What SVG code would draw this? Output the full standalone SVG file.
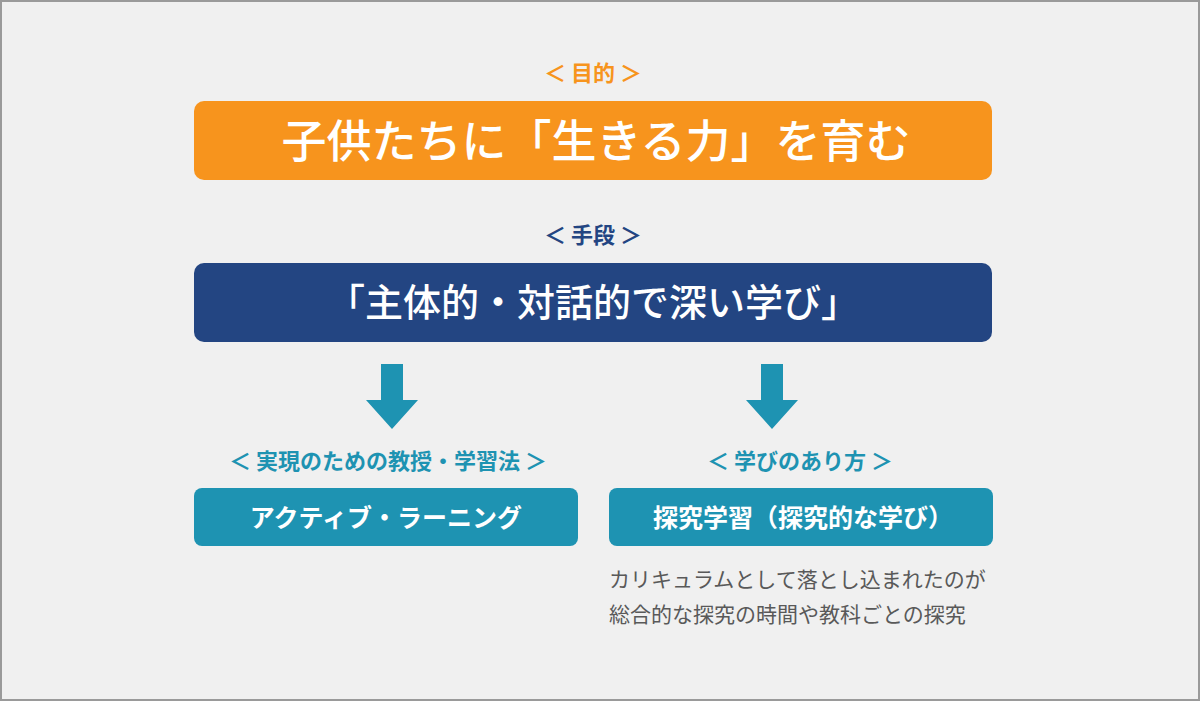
<svg xmlns="http://www.w3.org/2000/svg" width="1200" height="701" viewBox="0 0 1200 701">
<style>
text{font-family:"Noto Sans CJK JP","Noto Sans",sans-serif}
.lbl{font-size:22px;font-weight:bold;text-anchor:middle}
.w{fill:#fff;text-anchor:middle}
.note{font-size:21px;fill:#595959}
.teal{fill:#1e93b2}
</style>
<rect x="1" y="1" width="1198" height="699" fill="#f0f0f0" stroke="#9a9a9a" stroke-width="2"/>
<g id="purpose-label"><text class="lbl" x="593" y="81" fill="#f7941d">＜ 目的 ＞</text></g>
<g id="purpose"><rect x="194" y="101" width="798" height="79" rx="10" fill="#f7941d"/><text class="w" x="596" y="158" font-size="45" font-weight="500">子供たちに「生きる力」を育む</text></g>
<g id="means-label"><text class="lbl" x="593" y="243" fill="#234582">＜ 手段 ＞</text></g>
<g id="means"><rect x="194" y="263" width="798" height="79" rx="10" fill="#234582"/><text class="w" x="593" y="316" font-size="38" font-weight="500">「主体的・対話的で深い学び」</text></g>
<g id="connectors">
<polygon class="teal" points="381,364 403,364 403,400 418,400 392,429 366,400 381,400"/>
<polygon class="teal" points="761,364 783,364 783,400 798,400 772,429 746,400 761,400"/>
</g>
<g id="method-label"><text class="lbl teal" x="388" y="469">＜ 実現のための教授・学習法 ＞</text></g>
<g id="way-label"><text class="lbl teal" x="800" y="469">＜ 学びのあり方 ＞</text></g>
<g id="active"><rect x="194" y="488" width="384" height="58" rx="8" fill="#1e93b2"/><text class="w" x="386" y="527" font-size="25" font-weight="bold">アクティブ・ラーニング</text></g>
<g id="inquiry"><rect x="609" y="488" width="384" height="58" rx="8" fill="#1e93b2"/><text class="w" x="803" y="527" font-size="25" font-weight="bold">探究学習（探究的な学び）</text></g>
<g id="note"><text class="note" x="609" y="587">カリキュラムとして落とし込まれたのが</text><text class="note" x="609" y="622">総合的な探究の時間や教科ごとの探究</text></g>
</svg>
